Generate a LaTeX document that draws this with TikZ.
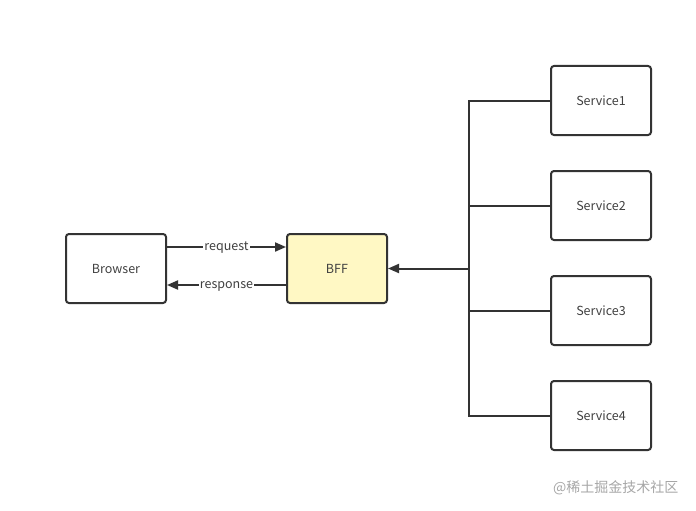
\documentclass[tikz,border=0pt]{standalone}
\usepackage{fontspec}
\setmainfont{Noto Sans CJK SC}
\usetikzlibrary{arrows.meta}
\definecolor{linec}{HTML}{333333}
\definecolor{bffc}{HTML}{FFF8C4}
\tikzset{
  box/.style={draw=linec, line width=2pt, rounded corners=3pt, minimum width=100pt, minimum height=69pt, inner sep=0pt, font=\fontsize{12.5}{14}\selectfont, text=black!75},
  conn/.style={draw=linec, line width=2pt},
  arr/.style={conn, -{Triangle[length=11pt,width=9pt]}},
  lbl/.style={fill=white, inner xsep=1pt, inner ysep=2pt, text height=7pt, text depth=0pt, font=\fontsize{12.5}{14}\selectfont, text=black!75}
}
\begin{document}
\begin{tikzpicture}[x=1pt,y=-1pt]
\useasboundingbox (0,0) rectangle (696,511);
\node[box] (browser) at (116,268.5) {Browser};
\node[box, fill=bffc] (bff) at (337,268.5) {BFF};
\node[box] (s1) at (601,100.5) {Service1};
\node[box] (s2) at (601,205.5) {Service2};
\node[box] (s3) at (601,310.5) {Service3};
\node[box] (s4) at (601,415.5) {Service4};
\coordinate (t1) at (469,100.5);
\coordinate (t4) at (469,415.5);
\coordinate (tm) at (469,268.5);
\draw[conn] (s1.west) -- (t1) -- (t4) -- (s4.west);
\draw[conn] (s2.west) -- (s2.west -| tm);
\draw[conn] (s3.west) -- (s3.west -| tm);
\draw[arr] (tm) -- (bff.east);
\draw[arr] ([yshift=21.5pt]browser.east) -- node[lbl] {request} ([yshift=21.5pt]bff.west);
\draw[arr] ([yshift=-16.5pt]bff.west) -- node[lbl] {response} ([yshift=-16.5pt]browser.east);
\node[font=\fontsize{14}{16}\selectfont, text=black!35, anchor=east] (wm) at (682,488) {@稀土掘金技术社区};
\end{tikzpicture}
\end{document}
